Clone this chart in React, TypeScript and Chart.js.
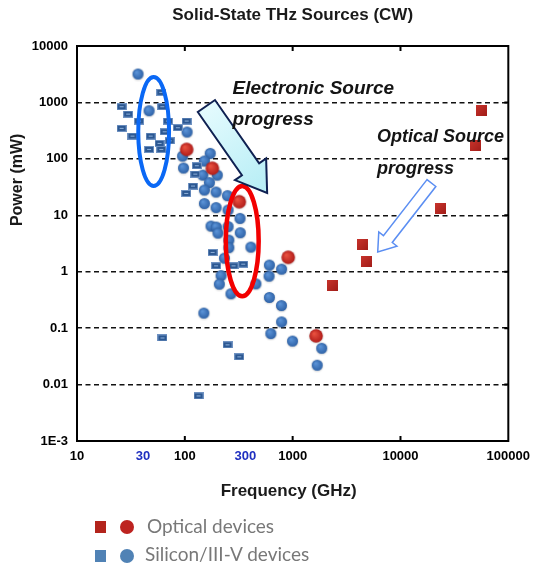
import React, { useEffect, useRef } from 'react';
import { Chart, registerables } from 'chart.js';

Chart.register(...registerables);

// ---------------- data (frequency in GHz, power in mW) ----------------
const opticalSquareFreq = [56000, 50000, 23500, 4400, 4800, 2330];
const opticalSquarePower = [730, 170, 13, 3.0, 1.5, 0.58];

const opticalCircleFreq = [104, 180, 320, 910, 1650];
const opticalCirclePower = [147, 68, 17.4, 1.8, 0.073];

const siliconRectFreq = [
  60.5, 25.9, 61.8, 29.8, 37.6, 69.7, 104, 25.9, 86.1, 65, 32.7, 48.2, 72.3, 58.3,
  46.6, 60.5, 129, 125, 119, 103, 181, 195, 283, 348, 249, 320, 134, 62,
];
const siliconRectPower = [
  1510, 839, 839, 622, 468, 468, 468, 347, 356, 302, 253, 253, 209, 188,
  147, 147, 75.5, 53.7, 33, 24.4, 2.2, 1.27, 1.27, 1.36, 0.0506, 0.031, 0.0063, 0.067,
];

const siliconCircleFreq = [
  36.8, 46.6, 105, 95.3, 97.3, 172, 152, 147, 200, 169, 152, 195, 249, 152, 195, 252,
  325, 175, 196, 203, 252, 327, 256, 410, 256, 233, 609, 790, 217, 605, 209, 456,
  268, 609, 787, 150, 790, 628, 997, 1860, 1690,
];
const siliconCirclePower = [
  3190, 713, 299, 112, 68.7, 125, 91.4, 51.6, 51.6, 38, 28, 25.8, 22.3, 16.1, 13.7, 12.4,
  8.81, 6.44, 6.18, 4.83, 6.31, 4.91, 3.63, 2.73, 2.67, 1.74, 1.31, 1.11, 0.853, 0.835, 0.602, 0.609,
  0.406, 0.35, 0.251, 0.185, 0.129, 0.08, 0.059, 0.044, 0.022,
];

const xTickValues = [10, 30, 100, 300, 1000, 10000, 100000];
const xTickLabels = ['10', '30', '100', '300', '1000', '10000', '100000'];
const xHighlightTicks = [30, 300];
const yTickValues = [0.001, 0.01, 0.1, 1, 10, 100, 1000, 10000];
const yTickLabels = ['1E-3', '0.01', '0.1', '1', '10', '100', '1000', '10000'];

const chartTitle = 'Solid-State THz Sources (CW)';
const xTitle = 'Frequency (GHz)';
const yTitle = 'Power (mW)';
const legendOptical = 'Optical devices';
const legendSilicon = 'Silicon/III-V devices';
const electronicText = ['Electronic Source', 'progress'];
const opticalText = ['Optical Source', 'progress'];

// annotation anchors in data units [GHz, mW]
const electronicTextAt = [277, 1393];
const opticalTextAt = [6050, 201];
const blueEllipseBox = [37, 71.4, 33, 2820];
const redEllipseBox = [240, 484, 0.369, 33];
const electronicArrow = [158.5, 863, 580, 24.8];
const opticalArrow = [19360, 37.2, 6150, 2.23];

const FONT = "'Liberation Sans', Arial, sans-serif";

function toPoints(xs: number[], ys: number[]) {
  return xs.map((x, i) => ({ x, y: ys[i] }));
}

function makeCircleImg(d: number, c1: string, c2: string) {
  const s = Math.ceil(d) + 4;
  const cv = document.createElement('canvas');
  cv.width = s;
  cv.height = s;
  const g = cv.getContext('2d')!;
  const r = d / 2;
  const c = s / 2;
  const grad = g.createRadialGradient(c - r * 0.3, c - r * 0.35, r * 0.1, c, c, r);
  grad.addColorStop(0, c1);
  grad.addColorStop(1, c2);
  g.shadowColor = 'rgba(0,0,0,0.25)';
  g.shadowBlur = 2;
  g.shadowOffsetY = 0.5;
  g.fillStyle = grad;
  g.beginPath();
  g.arc(c, c, r, 0, Math.PI * 2);
  g.fill();
  return cv;
}

function makeSquareImg(w: number, h: number, c1: string, c2: string) {
  const cv = document.createElement('canvas');
  cv.width = w;
  cv.height = h;
  const g = cv.getContext('2d')!;
  const grad = g.createLinearGradient(0, 0, w, h);
  grad.addColorStop(0, c1);
  grad.addColorStop(1, c2);
  g.fillStyle = grad;
  g.fillRect(0, 0, w, h);
  return cv;
}

function makeChipImg() {
  const w = 10;
  const h = 7;
  const cv = document.createElement('canvas');
  cv.width = w;
  cv.height = h;
  const g = cv.getContext('2d')!;
  g.fillStyle = '#6f92c2';
  g.fillRect(0, 0, w, h);
  g.fillStyle = '#2c5892';
  g.fillRect(1, 1, w - 2, h - 2);
  g.fillStyle = '#8fb0da';
  g.fillRect(3, 3, 4, 1);
  return cv;
}

function arrowPath(
  ctx: CanvasRenderingContext2D,
  sx: number, sy: number, tx: number, ty: number,
  shaftHalf: number, headHalf: number, headLen: number,
) {
  const dx = tx - sx;
  const dy = ty - sy;
  const L = Math.hypot(dx, dy);
  const ux = dx / L;
  const uy = dy / L;
  const nx = -uy;
  const ny = ux;
  const bx = tx - ux * headLen;
  const by = ty - uy * headLen;
  ctx.beginPath();
  ctx.moveTo(sx + nx * shaftHalf, sy + ny * shaftHalf);
  ctx.lineTo(bx + nx * shaftHalf, by + ny * shaftHalf);
  ctx.lineTo(bx + nx * headHalf, by + ny * headHalf);
  ctx.lineTo(tx, ty);
  ctx.lineTo(bx - nx * headHalf, by - ny * headHalf);
  ctx.lineTo(bx - nx * shaftHalf, by - ny * shaftHalf);
  ctx.lineTo(sx - nx * shaftHalf, sy - ny * shaftHalf);
  ctx.closePath();
}

const decorations = {
  id: 'decorations',
  afterDatasetsDraw(chart: any) {
    const { ctx, chartArea: a, scales } = chart;
    const xs = scales.x;
    const ys = scales.y;
    const px = (v: number) => xs.getPixelForValue(v);
    const py = (v: number) => ys.getPixelForValue(v);
    ctx.save();

    // ellipses
    const ellipse = (box: number[], color: string, lw: number) => {
      const l = px(box[0]);
      const r = px(box[1]);
      const b = py(box[2]);
      const t = py(box[3]);
      ctx.beginPath();
      ctx.ellipse((l + r) / 2, (t + b) / 2, (r - l) / 2, (b - t) / 2, 0, 0, Math.PI * 2);
      ctx.strokeStyle = color;
      ctx.lineWidth = lw;
      ctx.stroke();
    };
    ellipse(blueEllipseBox, '#0a68f5', 4);
    ellipse(redEllipseBox, '#f20000', 4.5);

    // electronic progress arrow
    {
      const sx = px(electronicArrow[0]);
      const sy = py(electronicArrow[1]);
      const tx = px(electronicArrow[2]);
      const ty = py(electronicArrow[3]);
      arrowPath(ctx, sx, sy, tx, ty, 10.5, 19, 29);
      const grad = ctx.createLinearGradient(sx, sy, tx, ty);
      grad.addColorStop(0, '#e4fbfe');
      grad.addColorStop(1, '#b5edf5');
      ctx.fillStyle = grad;
      ctx.fill();
      ctx.lineJoin = 'miter';
      ctx.strokeStyle = '#0f2152';
      ctx.lineWidth = 2;
      ctx.stroke();
    }
    // optical progress arrow
    {
      const sx = px(opticalArrow[0]);
      const sy = py(opticalArrow[1]);
      const tx = px(opticalArrow[2]);
      const ty = py(opticalArrow[3]);
      arrowPath(ctx, sx, sy, tx, ty, 5.6, 11.5, 16.5);
      ctx.fillStyle = '#ffffff';
      ctx.fill();
      ctx.strokeStyle = '#5b8ef2';
      ctx.lineWidth = 1.5;
      ctx.stroke();
    }

    // annotation texts
    ctx.fillStyle = '#141414';
    ctx.textAlign = 'left';
    ctx.textBaseline = 'alphabetic';
    ctx.font = `italic bold 19px ${FONT}`;
    electronicText.forEach((t, i) => {
      ctx.fillText(t, px(electronicTextAt[0]), py(electronicTextAt[1]) + i * 31);
    });
    ctx.font = `italic bold 18px ${FONT}`;
    opticalText.forEach((t, i) => {
      ctx.fillText(t, px(opticalTextAt[0]), py(opticalTextAt[1]) + i * 32);
    });

    // plot frame with inward ticks
    ctx.strokeStyle = '#000';
    ctx.lineWidth = 2;
    ctx.strokeRect(a.left, a.top, a.right - a.left, a.bottom - a.top);
    ctx.beginPath();
    xTickValues.forEach((v) => {
      if (xHighlightTicks.includes(v)) return;
      const x = px(v);
      if (x <= a.left + 1 || x >= a.right - 1) return;
      ctx.moveTo(x, a.bottom);
      ctx.lineTo(x, a.bottom - 5);
      ctx.moveTo(x, a.top);
      ctx.lineTo(x, a.top + 5);
    });
    yTickValues.forEach((v) => {
      const y = py(v);
      if (y <= a.top + 1 || y >= a.bottom - 1) return;
      ctx.moveTo(a.right, y);
      ctx.lineTo(a.right - 4, y);
    });
    ctx.stroke();

    // titles
    ctx.fillStyle = '#1a1a1a';
    ctx.textAlign = 'center';
    ctx.font = `bold 17px ${FONT}`;
    ctx.fillText(chartTitle, (a.left + a.right) / 2, a.top - 26);
    ctx.fillText(xTitle, (a.left + a.right) / 2 - 4, a.bottom + 55);
    ctx.font = `bold 16px ${FONT}`;
    ctx.translate(18, py(100) + 21);
    ctx.rotate(-Math.PI / 2);
    ctx.textBaseline = 'middle';
    ctx.fillText(yTitle, 0, 0);
    ctx.restore();
  },
};

const highlightPad: Record<number, number> = { 30: 8, 300: 5 };

export default function App() {
  const canvasRef = useRef<HTMLCanvasElement | null>(null);

  useEffect(() => {
    const canvas = canvasRef.current;
    if (!canvas) return;
    const blueDot = makeCircleImg(11, '#5a92d6', '#2f63a8');
    const redDot = makeCircleImg(13.5, '#e8503f', '#b11d1a');
    const redSquare = makeSquareImg(11, 11, '#c8342c', '#a21d19');
    const chip = makeChipImg();

    const chart = new Chart(canvas, {
      type: 'scatter',
      data: {
        datasets: [
          {
            label: 'Optical (square)',
            data: toPoints(opticalSquareFreq, opticalSquarePower),
            pointStyle: redSquare as any,
            pointRadius: 6,
          },
          {
            label: 'Optical (circle)',
            data: toPoints(opticalCircleFreq, opticalCirclePower),
            pointStyle: redDot as any,
            pointRadius: 7,
          },
          {
            label: 'Silicon/III-V (square)',
            data: toPoints(siliconRectFreq, siliconRectPower),
            pointStyle: chip as any,
            pointRadius: 5,
          },
          {
            label: 'Silicon/III-V (circle)',
            data: toPoints(siliconCircleFreq, siliconCirclePower),
            pointStyle: blueDot as any,
            pointRadius: 6,
          },
        ],
      },
      options: {
        animation: false,
        responsive: false,
        maintainAspectRatio: false,
        layout: { padding: { top: 46, right: 28, bottom: 0, left: 0 } },
        plugins: {
          legend: { display: false },
          tooltip: { enabled: false },
          title: { display: false },
        },
        scales: {
          x: {
            type: 'logarithmic',
            min: 10,
            max: 100000,
            afterBuildTicks: (s: any) => {
              s.ticks = xTickValues.map((v) => ({ value: v }));
            },
            afterFit: (s: any) => {
              s.height = 127;
            },
            grid: { display: false, drawTicks: false },
            border: { display: false },
            ticks: {
              autoSkip: false,
              maxRotation: 0,
              padding: 8,
              font: { family: FONT, size: 13, weight: 'bold' },
              color: (c: any) => (xHighlightTicks.includes(c.tick?.value) ? '#1f2fc0' : '#000'),
              callback: (v: any) => {
                const i = xTickValues.indexOf(Number(v));
                const label = i >= 0 ? xTickLabels[i] : '';
                const pad = highlightPad[Number(v)] || 0;
                return ' '.repeat(pad) + label;
              },
            },
          },
          y: {
            type: 'logarithmic',
            min: 0.001,
            max: 10000,
            afterBuildTicks: (s: any) => {
              s.ticks = yTickValues.map((v) => ({ value: v }));
            },
            afterFit: (s: any) => {
              s.width = 77;
            },
            grid: { color: '#111', lineWidth: 1.5, drawTicks: false },
            border: { display: false, dash: [5, 3.5] },
            ticks: {
              autoSkip: false,
              padding: 9,
              font: { family: FONT, size: 13, weight: 'bold' },
              color: '#000',
              callback: (v: any) => {
                const i = yTickValues.findIndex((t) => Math.abs(t - Number(v)) / t < 1e-6);
                return i >= 0 ? yTickLabels[i] : '';
              },
            },
          },
        },
      } as any,
      plugins: [decorations],
    });
    return () => chart.destroy();
  }, []);

  const legendText: React.CSSProperties = {
    position: 'absolute',
    font: "19px Lato, 'Open Sans', sans-serif",
    lineHeight: '1.2',
    color: '#787878',
    whiteSpace: 'nowrap',
  };

  return (
    <div style={{ position: 'absolute', left: 0, top: 0, width: 538, height: 568, background: '#fff' }}>
      <canvas ref={canvasRef} width={538} height={568} style={{ position: 'absolute', left: 0, top: 0 }} />
      <div style={{ position: 'absolute', left: 95, top: 521, width: 11, height: 12, background: '#b3241c' }} />
      <div style={{ position: 'absolute', left: 119.5, top: 519.5, width: 14.5, height: 14.5, borderRadius: '50%', background: '#bd2320' }} />
      <div style={{ ...legendText, left: 147, top: 514.5 }}>{legendOptical}</div>
      <div style={{ position: 'absolute', left: 95, top: 550, width: 11, height: 12, background: '#5082b5' }} />
      <div style={{ position: 'absolute', left: 119.5, top: 548.5, width: 14.5, height: 14.5, borderRadius: '50%', background: '#5082b5' }} />
      <div style={{ ...legendText, left: 145, top: 542.5 }}>{legendSilicon}</div>
    </div>
  );
}
